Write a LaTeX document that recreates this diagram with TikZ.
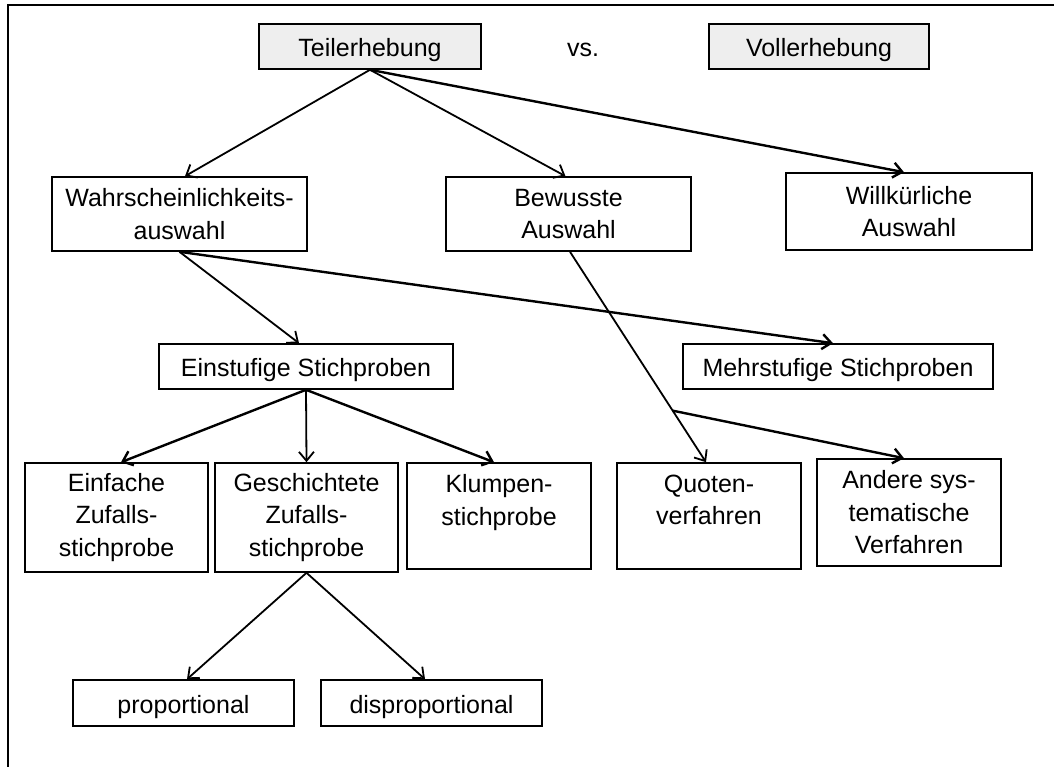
\documentclass[tikz,border=0pt]{standalone}
\usepackage{fontspec}
\setmainfont{Liberation Sans}
\usetikzlibrary{arrows.meta,calc}
\begin{document}
\begin{tikzpicture}[x=1pt,y=-1pt,
  box/.style={draw=black,line width=1.6pt,rectangle,inner sep=0pt,align=center,
    font=\fontsize{25}{32.5}\selectfont},
  oneline/.style={text height=20pt,text depth=0pt},
  headbox/.style={box,oneline,fill=gray!13},
  label/.style={inner sep=0pt,font=\fontsize{25}{32.5}\selectfont},
  thin/.style={line width=1.8pt,-{Straight Barb[length=9pt,width=15pt]}},
  thick/.style={line width=2.4pt,-{Straight Barb[length=9pt,width=15pt]}}]
\useasboundingbox (0,0) rectangle (1054,767);
\fill[white] (0,0) rectangle (1054,767);
% outer frame (top and left edges)
\draw[line width=2.2pt] (8,767) -- (8,5) -- (1054,5);

% top row
\node[headbox,minimum width=222,minimum height=45] (T) at (370,46.5) {Teilerhebung};
\node[label,anchor=base] (vs) at (583,57) {vs.};
\node[headbox,minimum width=220,minimum height=45] (V) at (819,46.5) {Vollerhebung};

% second row
\node[box,minimum width=255,minimum height=74] (W) at (179.5,214) {Wahrscheinlichkeits-\\auswahl};
\node[box,minimum width=245,minimum height=74] (B) at (568.5,214) {Bewusste\\Auswahl};
\node[box,minimum width=246,minimum height=77] (Wk) at (909,211.5) {Willkürliche\\Auswahl};

% third row
\node[box,oneline,minimum width=294,minimum height=45] (E) at (306,366.5) {Einstufige Stichproben};
\node[box,oneline,minimum width=310,minimum height=45] (M) at (838,366.5) {Mehrstufige Stichproben};

% fourth row
\node[box,minimum width=183,minimum height=109] (Ef) at (116.5,517.5) {Einfache\\Zufalls-\\stichprobe};
\node[box,minimum width=183,minimum height=109] (G) at (306.5,517.5) {Geschichtete\\Zufalls-\\stichprobe};
\node[box,minimum width=184,minimum height=106] (K) at (499,516) {Klumpen-\\stichprobe\\~};
\node[box,minimum width=184,minimum height=106] (Q) at (709,516) {Quoten-\\verfahren\\~};
\node[box,minimum width=184,minimum height=107] (A) at (909,512.5) {Andere sys-\\tematische\\Verfahren};

% bottom row
\node[box,oneline,minimum width=221,minimum height=46] (P) at (183.5,703) {proportional};
\node[box,oneline,minimum width=221,minimum height=46] (D) at (431.5,703) {disproportional};

% connectors
\draw[thin] (T.south) -- ([xshift=5.5]W.north);
\draw[thin] (T.south) -- ([xshift=-3]B.north);
\draw[thick] (T.south) -- ([xshift=-5]Wk.north);

\draw[thin] (W.south) -- ([xshift=-7]E.north);
\draw[thick] (W.south) -- ([xshift=-5]M.north);

\coordinate (qtip) at ([xshift=-3]Q.north);
\draw[thin] ([xshift=1.5]B.south) -- (qtip);
\coordinate (br) at ($([xshift=1.5]B.south)!0.755!(qtip)$);
\draw[thick] (br) -- ([xshift=-5]A.north);

\draw[thick] (E.south) -- ([xshift=4.5]Ef.north);
\draw[thin] (E.south) -- (G.north);
\draw[thick] (E.south) -- ([xshift=-5]K.north);

\draw[thin] (G.south) -- ([xshift=3.5]P.north);
\draw[thin] (G.south) -- ([xshift=-6.5]D.north);
\end{tikzpicture}
\end{document}
